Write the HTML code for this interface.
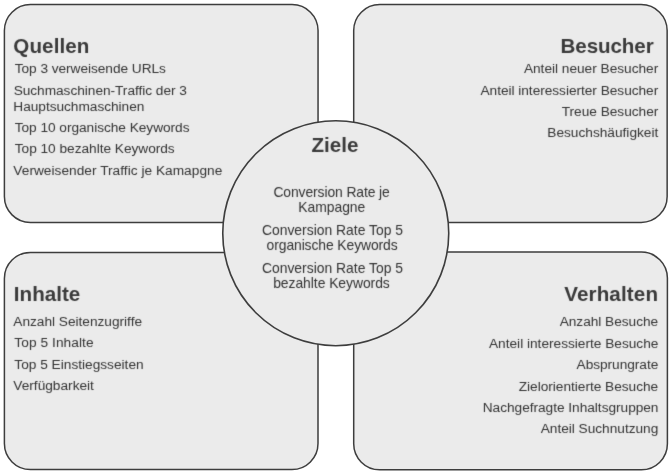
<!DOCTYPE html>
<html lang="de">
<head>
<meta charset="utf-8">
<title>Ziele</title>
<style>
html,body{margin:0;padding:0;background:#ffffff;}
body{width:671px;height:474px;overflow:hidden;font-family:"Liberation Sans",sans-serif;}
svg{display:block;will-change:transform;filter:grayscale(1);}
svg text{font-family:"Liberation Sans",sans-serif;white-space:pre;}
.shapes{fill:#ebebeb;stroke:#3d3d3d;stroke-width:1.5;}
.h{font-size:20.6px;font-weight:700;fill:#3a3a3a;}
.b{font-size:13.7px;fill:#333333;}
.c{font-size:13.9px;fill:#333333;}
</style>
</head>
<body>
<svg width="671" height="474" viewBox="0 0 671 474">
<rect x="0" y="0" width="671" height="474" fill="#ffffff"/>
<defs><filter id="soft" x="0" y="0" width="671" height="474" filterUnits="userSpaceOnUse" color-interpolation-filters="sRGB"><feConvolveMatrix order="3" kernelMatrix="0.0113 0.0838 0.0113 0.0838 0.6193 0.0838 0.0113 0.0838 0.0113" divisor="1" edgeMode="none" preserveAlpha="false"/></filter></defs>
<g class="shapes">
<rect x="4.4" y="4.55" width="313.65" height="217.95" rx="26" ry="26"/>
<rect x="353.7" y="4.55" width="313.45" height="217.85" rx="26" ry="26"/>
<rect x="4.4" y="252.4" width="313.6" height="217.2" rx="26" ry="26"/>
<rect x="353.7" y="252.1" width="313.7" height="217.75" rx="26" ry="26"/>
<ellipse cx="335.75" cy="233.25" rx="113.0" ry="112.45" stroke-width="1.6"/>
</g>
<g class="labels" filter="url(#soft)">
<text class="h" x="13.25" y="53.1" letter-spacing="0.108">Quellen</text>
<text class="b" x="14.75" y="73.2" letter-spacing="-0.048">Top 3 verweisende URLs</text>
<text class="b" x="13.65" y="95.0" letter-spacing="-0.038">Suchmaschinen-Traffic der 3</text>
<text class="b" x="13.35" y="110.6" letter-spacing="-0.038">Hauptsuchmaschinen</text>
<text class="b" x="14.75" y="132.0" letter-spacing="-0.04">Top 10 organische Keywords</text>
<text class="b" x="14.75" y="153.0" letter-spacing="-0.026">Top 10 bezahlte Keywords</text>
<text class="b" x="13.35" y="174.9" letter-spacing="0.023">Verweisender Traffic je Kamapgne</text>
<text class="h" x="560.5" y="53.1" letter-spacing="-0.093">Besucher</text>
<text class="b" x="523.9" y="73.1" letter-spacing="-0.017">Anteil neuer Besucher</text>
<text class="b" x="480.5" y="94.6" letter-spacing="-0.036">Anteil interessierter Besucher</text>
<text class="b" x="561.75" y="115.5" letter-spacing="-0.023">Treue Besucher</text>
<text class="b" x="547.25" y="137.2" letter-spacing="-0.003">Besuchshäufigkeit</text>
<text class="h" x="13.8" y="300.8" letter-spacing="0.025">Inhalte</text>
<text class="b" x="13.3" y="326.2" letter-spacing="-0.018">Anzahl Seitenzugriffe</text>
<text class="b" x="14.35" y="347.4" letter-spacing="0.071">Top 5 Inhalte</text>
<text class="b" x="14.35" y="368.9" letter-spacing="-0.003">Top 5 Einstiegsseiten</text>
<text class="b" x="13.35" y="390.3" letter-spacing="-0.008">Verfügbarkeit</text>
<text class="h" x="564.15" y="300.8" letter-spacing="0.144">Verhalten</text>
<text class="b" x="559.7" y="326.3" letter-spacing="-0.035">Anzahl Besuche</text>
<text class="b" x="489.0" y="347.9" letter-spacing="-0.011">Anteil interessierte Besuche</text>
<text class="b" x="576.6" y="368.5" letter-spacing="-0.045">Absprungrate</text>
<text class="b" x="518.7" y="390.6" letter-spacing="-0.02">Zielorientierte Besuche</text>
<text class="b" x="482.75" y="411.5" letter-spacing="-0.031">Nachgefragte Inhaltsgruppen</text>
<text class="b" x="540.7" y="433.0" letter-spacing="-0.021">Anteil Suchnutzung</text>
<text class="h" x="311.5" y="151.7" letter-spacing="-0.012">Ziele</text>
<text class="c" x="273.45" y="196.5" letter-spacing="-0.103">Conversion Rate je</text>
<text class="c" x="298.35" y="212.0" letter-spacing="-0.043">Kampagne</text>
<text class="c" x="261.95" y="234.7" letter-spacing="-0.002">Conversion Rate Top 5</text>
<text class="c" x="266.6" y="250.1" letter-spacing="-0.097">organische Keywords</text>
<text class="c" x="261.95" y="272.5" letter-spacing="-0.002">Conversion Rate Top 5</text>
<text class="c" x="273.2" y="288.2" letter-spacing="-0.047">bezahlte Keywords</text>
</g>
</svg>
</body>
</html>
